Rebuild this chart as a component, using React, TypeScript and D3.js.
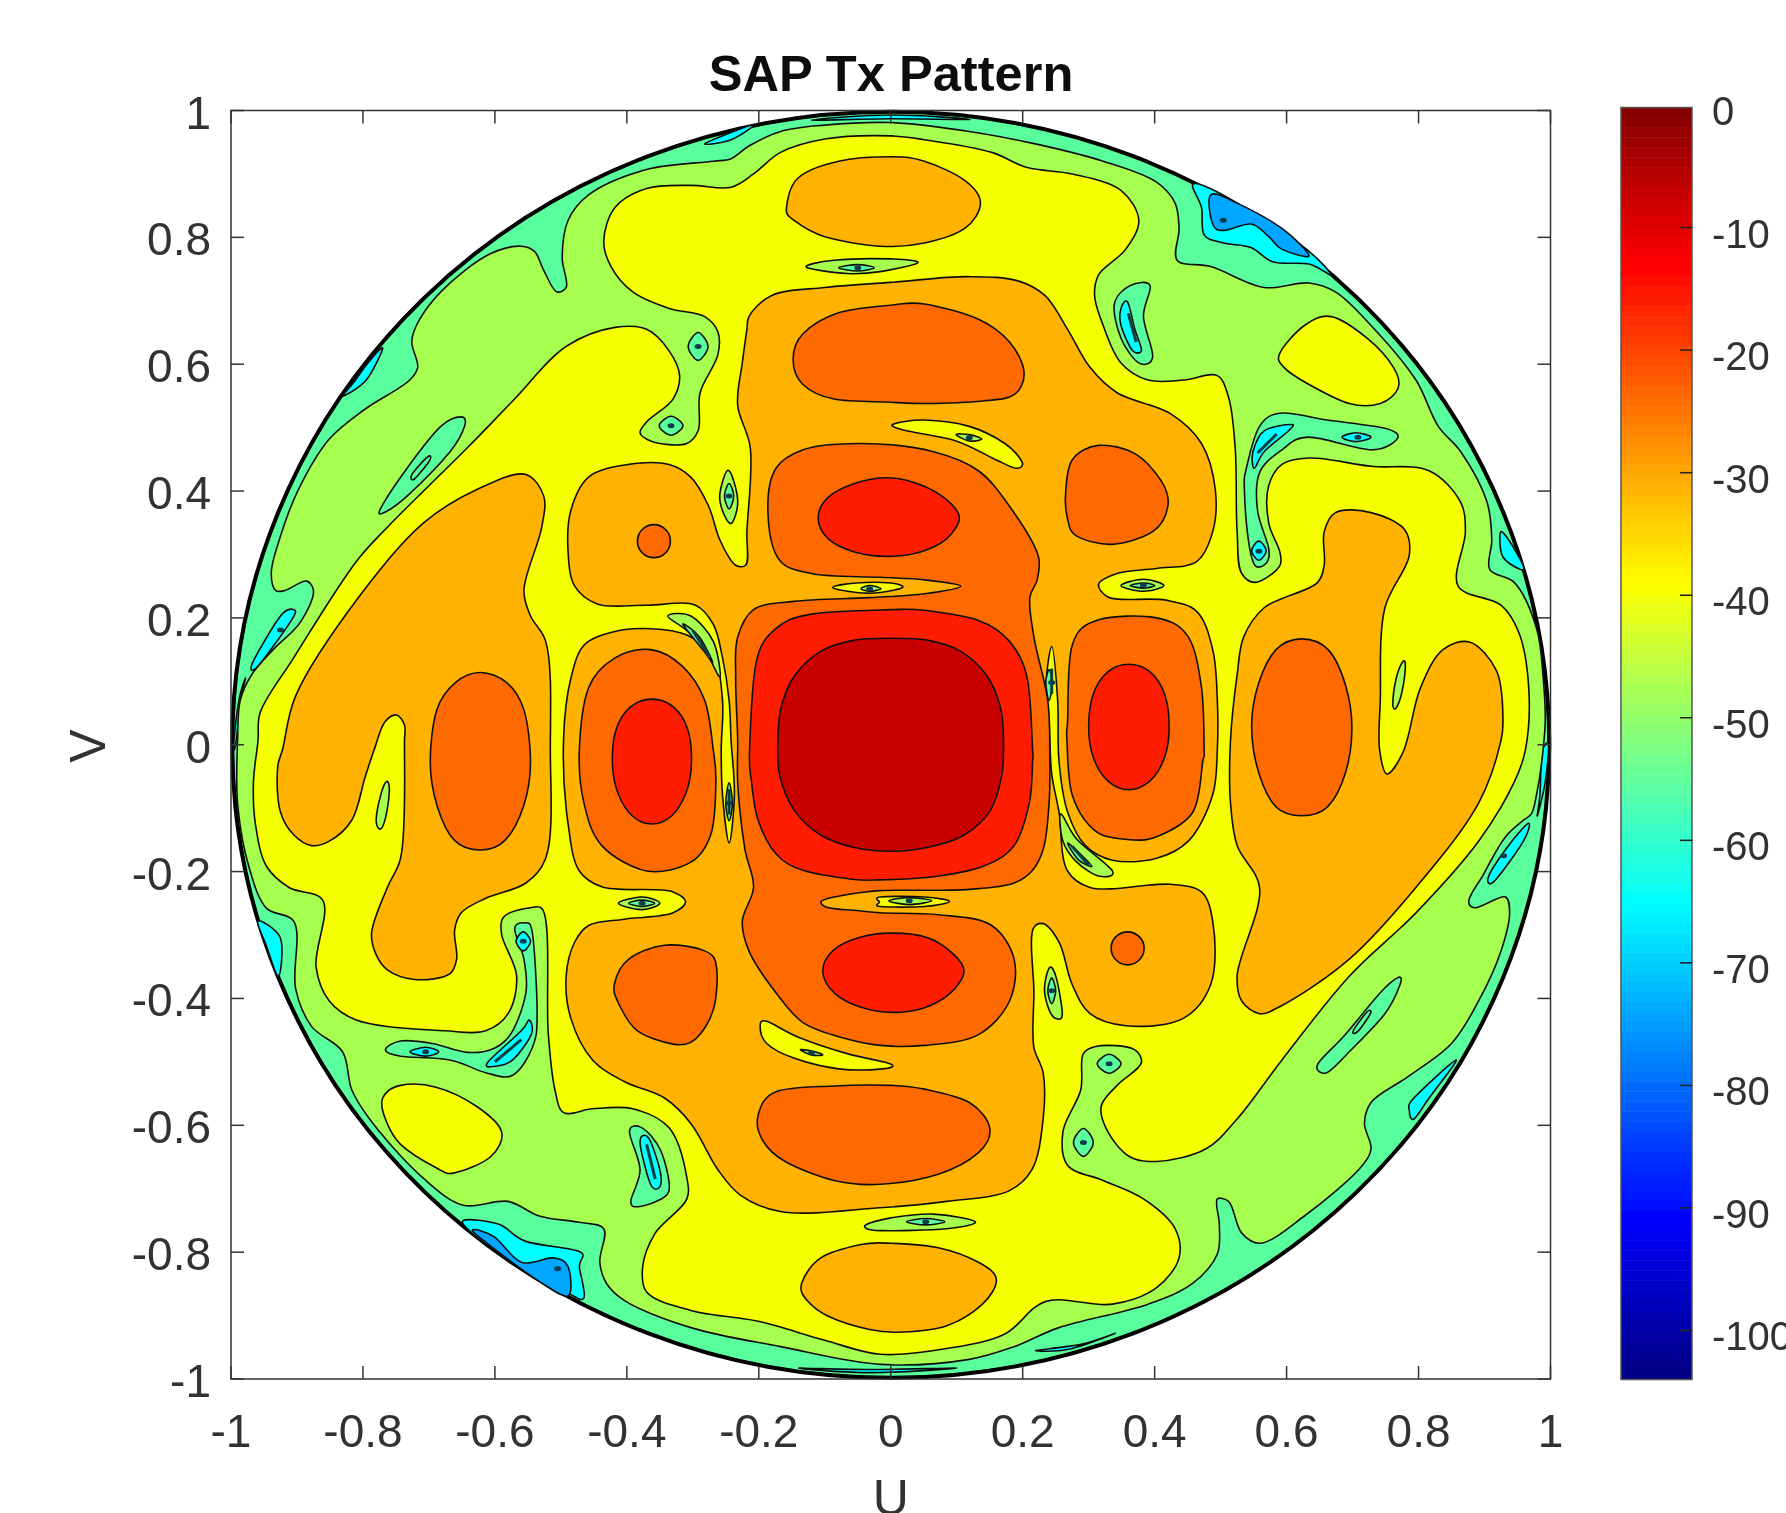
import React from "react";
import * as d3 from "d3";

type Pt = [number, number];

const uvTicks = [-1, -0.8, -0.6, -0.4, -0.2, 0, 0.2, 0.4, 0.6, 0.8, 1];
const barTicks = [0, -10, -20, -30, -40, -50, -60, -70, -80, -90, -100];
const jetDb = [-104, -91, -65, -39, -13, 0];
const jetColors = ["#000080", "#0000ff", "#00ffff", "#ffff00", "#ff0000", "#800000"];

// colours of the filled bands
const bandBlue = "#00a6ff";
const bandCyan = "#00ffff";
const bandAqua = "#5aff9d";
const bandLime = "#a6ff50";
const bandYellow = "#f6ff00";
const bandAmber = "#ffb300";
const bandOrange = "#ff6a00";
const bandRed = "#ff1e00";
const bandDark = "#c80000";

const limeMain: Pt[] = [[-.939,.270],[-.925,.329],[-.898,.402],[-.851,.482],[-.797,.529],[-.729,.575],[-.717,.595],[-.726,.635],[-.719,.661],[-.682,.714],[-.607,.774],[-.560,.786],[-.540,.778],[-.526,.748],[-.506,.714],[-.492,.721],[-.498,.768],[-.489,.827],[-.458,.867],[-.370,.907],[-.269,.920],[-.242,.924],[-.215,.944],[-.167,.967],[-.100,.977],[0,.981],[.119,.967],[.221,.947],[.322,.920],[.403,.887],[.431,.854],[.437,.814],[.434,.764],[.485,.754],[.566,.721],[.634,.728],[.674,.714],[.728,.661],[.796,.575],[.830,.502],[.864,.462],[.904,.382],[.911,.323],[.908,.276],[.945,.256],[.979,.183],[.989,.104],[.992,.037],[.986,-.033],[.980,-.072],[.971,-.109],[.959,-.119],[.932,-.145],[.898,-.205],[.876,-.248],[.884,-.257],[.932,-.240],[.938,-.265],[.925,-.325],[.891,-.404],[.850,-.471],[.783,-.524],[.728,-.564],[.718,-.597],[.728,-.637],[.715,-.663],[.627,-.743],[.559,-.786],[.532,-.770],[.512,-.720],[.495,-.716],[.498,-.756],[.495,-.803],[.458,-.849],[.390,-.882],[.255,-.919],[.187,-.949],[.119,-.969],[-.016,-.977],[-.167,-.949],[-.303,-.919],[-.404,-.876],[-.431,-.849],[-.441,-.816],[-.435,-.763],[-.472,-.753],[-.533,-.743],[-.580,-.720],[-.648,-.726],[-.709,-.683],[-.790,-.590],[-.817,-.544],[-.831,-.484],[-.878,-.444],[-.902,-.385],[-.905,-.278],[-.946,-.258],[-.973,-.192],[-.990,-.092],[-.990,.007],[-.986,.070],[-.969,.110],[-.936,.150],[-.895,.193],[-.875,.243],[-.885,.258],[-.919,.243],[-.932,.243]];

const yellowMain: Pt[] = [[-.435,.794],[-.418,.847],[-.370,.877],[-.303,.882],[-.242,.879],[-.208,.900],[-.167,.934],[-.100,.955],[0,.960],[.051,.954],[.153,.934],[.207,.910],[.275,.900],[.349,.874],[.376,.827],[.356,.781],[.315,.741],[.309,.708],[.322,.661],[.349,.602],[.390,.575],[.444,.575],[.495,.582],[.512,.548],[.522,.469],[.525,.336],[.532,.270],[.552,.256],[.590,.283],[.590,.303],[.573,.349],[.573,.409],[.593,.442],[.634,.452],[.728,.439],[.816,.432],[.864,.382],[.871,.336],[.860,.250],[.925,.220],[.952,.177],[.967,.090],[.962,-.008],[.945,-.059],[.891,-.152],[.796,-.265],[.695,-.365],[.593,-.497],[.525,-.590],[.478,-.637],[.403,-.657],[.363,-.650],[.329,-.610],[.319,-.570],[.343,-.537],[.380,-.501],[.370,-.481],[.309,-.476],[.292,-.487],[.288,-.544],[.261,-.610],[.268,-.663],[.322,-.687],[.383,-.716],[.431,-.763],[.437,-.809],[.403,-.856],[.336,-.882],[.234,-.878],[.173,-.929],[.085,-.952],[-.016,-.961],[-.100,-.939],[-.201,-.909],[-.303,-.892],[-.370,-.863],[-.376,-.823],[-.357,-.770],[-.309,-.716],[-.309,-.683],[-.336,-.604],[-.391,-.574],[-.452,-.574],[-.496,-.580],[-.509,-.544],[-.519,-.457],[-.529,-.258],[-.546,-.257],[-.587,-.272],[-.590,-.298],[-.567,-.365],[-.580,-.424],[-.614,-.451],[-.675,-.451],[-.810,-.434],[-.851,-.404],[-.871,-.351],[-.861,-.245],[-.912,-.225],[-.946,-.192],[-.963,-.125],[-.966,-.059],[-.959,.007],[-.956,.050],[-.905,.137],[-.810,.289],[-.763,.343],[-.641,.469],[-.573,.542],[-.492,.628],[-.418,.658],[-.370,.655],[-.336,.621],[-.320,.582],[-.330,.545],[-.370,.509],[-.380,.492],[-.364,.479],[-.309,.475],[-.292,.495],[-.289,.555],[-.262,.615],[-.262,.651],[-.282,.675],[-.336,.688],[-.391,.714],[-.424,.754]];

const amberCentral: Pt[] = [[-.218,.655],[-.215,.675],[-.181,.708],[-.100,.721],[0,.729],[.119,.738],[.194,.731],[.234,.708],[.268,.655],[.302,.595],[.343,.555],[.424,.522],[.471,.475],[.492,.402],[.488,.336],[.464,.289],[.403,.278],[.343,.270],[.315,.253],[.329,.233],[.417,.228],[.464,.210],[.488,.150],[.495,.070],[.495,-.008],[.488,-.079],[.451,-.152],[.403,-.179],[.336,-.182],[.295,-.159],[.268,-.106],[.255,-.026],[.253,.070],[.244,.155],[.236,.104],[.240,.037],[.244,-.046],[.255,-.106],[.268,-.199],[.302,-.225],[.424,-.220],[.471,-.232],[.488,-.278],[.485,-.378],[.444,-.431],[.356,-.443],[.302,-.424],[.275,-.378],[.255,-.311],[.231,-.282],[.217,-.288],[.217,-.391],[.217,-.477],[.231,-.517],[.231,-.590],[.214,-.670],[.180,-.703],[.085,-.720],[-.016,-.730],[-.167,-.736],[-.228,-.710],[-.262,-.670],[-.303,-.597],[-.343,-.557],[-.404,-.531],[-.452,-.497],[-.485,-.431],[-.492,-.365],[-.479,-.311],[-.458,-.285],[-.404,-.275],[-.330,-.265],[-.311,-.248],[-.330,-.232],[-.438,-.224],[-.472,-.199],[-.489,-.125],[-.496,.007],[-.485,.104],[-.465,.157],[-.424,.177],[-.364,.183],[-.309,.173],[-.269,.140],[-.255,.070],[-.257,-.008],[-.255,-.079],[-.245,-.155],[-.237,-.079],[-.242,.007],[-.245,.070],[-.255,.137],[-.269,.190],[-.296,.220],[-.370,.220],[-.445,.222],[-.479,.250],[-.489,.303],[-.485,.369],[-.458,.422],[-.397,.442],[-.336,.442],[-.303,.422],[-.276,.376],[-.259,.323],[-.235,.283],[-.220,.283],[-.218,.336],[-.213,.469],[-.232,.535],[-.225,.602]];

const amberIslands: Pt[][] = [
  [[-.158,.847],[-.140,.894],[-.079,.920],[0,.927],[.051,.920],[.112,.890],[.136,.854],[.112,.814],[.051,.791],[-.016,.786],[-.100,.801],[-.147,.827]],
  [[-.135,-.849],[-.106,-.809],[-.045,-.788],[0,-.786],[.072,-.793],[.133,-.816],[.160,-.843],[.139,-.882],[.085,-.916],[.018,-.926],[-.032,-.922],[-.093,-.902],[-.127,-.876]],
  [[-.922,-.008],[-.902,.077],[-.804,.236],[-.709,.349],[-.628,.402],[-.553,.426],[-.526,.392],[-.529,.343],[-.556,.243],[-.546,.203],[-.523,.163],[-.516,-.008],[-.523,-.179],[-.553,-.218],[-.614,-.242],[-.651,-.265],[-.661,-.292],[-.658,-.338],[-.668,-.361],[-.722,-.370],[-.763,-.355],[-.780,-.331],[-.787,-.298],[-.763,-.225],[-.743,-.179],[-.737,.007],[-.737,.031],[-.749,.047],[-.766,.037],[-.783,-.008],[-.797,-.052],[-.817,-.119],[-.851,-.152],[-.878,-.159],[-.905,-.142],[-.925,-.106],[-.929,-.033]],
  [[.535,.170],[.566,.216],[.647,.256],[.657,.283],[.657,.336],[.674,.366],[.728,.366],[.779,.339],[.786,.299],[.749,.216],[.742,.070],[.741,-.008],[.752,-.046],[.776,-.013],[.803,.090],[.837,.150],[.877,.162],[.918,.117],[.928,.037],[.925,.007],[.891,-.092],[.796,-.225],[.695,-.338],[.593,-.411],[.559,-.424],[.532,-.404],[.525,-.365],[.559,-.225],[.525,-.159],[.515,-.092],[.515,.007],[.525,.110]],
];

const orangeCentral: Pt[] = [[-.186,.363],[-.174,.436],[-.133,.465],[-.045,.475],[.065,.462],[.133,.432],[.180,.376],[.224,.296],[.222,.260],[.211,.233],[.217,.170],[.238,.070],[.241,-.008],[.240,-.092],[.231,-.165],[.214,-.199],[.187,-.218],[.119,-.228],[-.016,-.230],[-.045,-.233],[-.100,-.244],[-.106,-.248],[-.100,-.255],[-.045,-.262],[-.016,-.265],[.072,-.268],[.153,-.285],[.187,-.338],[.180,-.404],[.133,-.457],[.051,-.474],[-.016,-.474],[-.066,-.464],[-.133,-.438],[-.174,-.391],[-.215,-.325],[-.225,-.278],[-.208,-.225],[-.221,-.165],[-.232,-.059],[-.232,.007],[-.235,.104],[-.232,.170],[-.208,.213],[-.147,.226],[-.032,.232],[.051,.238],[.106,.250],[.051,.260],[-.016,.264],[-.120,.270],[-.167,.289]];

const orangeIslands: Pt[][] = [
  [[.268,.037],[.275,.157],[.315,.197],[.403,.200],[.451,.170],[.471,.090],[.475,-.008],[.473,-.026],[.458,-.106],[.403,-.145],[.356,-.149],[.309,-.135],[.275,-.079],[.267,.007]],
  [[-.472,-.008],[-.458,.090],[-.418,.137],[-.364,.150],[-.316,.124],[-.282,.070],[-.269,-.008],[-.265,-.059],[-.272,-.139],[-.303,-.185],[-.370,-.199],[-.438,-.159],[-.465,-.092]],
  [[-.148,.608],[-.133,.648],[-.079,.681],[0,.693],[.051,.695],[.133,.671],[.180,.635],[.202,.588],[.187,.552],[.139,.542],[.051,.538],[0,.540],[-.086,.545],[-.133,.568]],
  [[.265,.396],[.275,.449],[.315,.472],[.370,.459],[.410,.416],[.420,.376],[.397,.336],[.336,.316],[.282,.329],[.268,.356]],
  [[-.359,.347],[-.341,.339],[-.334,.321],[-.341,.303],[-.359,.295],[-.377,.303],[-.384,.321],[-.377,.339]],
  [[.359,-.295],[.377,-.303],[.384,-.321],[.377,-.339],[.359,-.347],[.341,-.339],[.334,-.321],[.341,-.303]],
  [[-.419,-.378],[-.397,-.338],[-.343,-.316],[-.282,-.325],[-.264,-.351],[-.269,-.418],[-.296,-.464],[-.330,-.472],[-.384,-.451],[-.411,-.411]],
  [[-.201,-.584],[-.174,-.547],[-.086,-.538],[0,-.537],[.051,-.543],[.119,-.564],[.150,-.604],[.133,-.643],[.072,-.677],[-.016,-.693],[-.086,-.687],[-.160,-.657],[-.194,-.624]],
  [[-.622,.114],[-.582,.098],[-.556,.055],[-.546,-.026],[-.556,-.095],[-.584,-.150],[-.622,-.166],[-.662,-.150],[-.688,-.095],[-.698,-.026],[-.688,.055],[-.660,.098]],
  [[.623,.167],[.663,.150],[.689,.095],[.699,.027],[.689,-.045],[.662,-.098],[.623,-.112],[.584,-.098],[.558,-.045],[.547,.027],[.557,.095],[.584,.150]],
];

const redRegions: Pt[][] = [
  [[-.214,-.008],[-.204,.130],[-.174,.183],[-.120,.206],[0,.213],[.051,.212],[.133,.196],[.180,.163],[.207,.104],[.215,-.008],[.215,-.026],[.210,-.092],[.187,-.159],[.139,-.192],[.065,-.208],[-.016,-.213],[-.059,-.212],[-.133,-.198],[-.174,-.172],[-.201,-.119],[-.211,-.059]],
  [[-.005,.421],[.045,.410],[.085,.386],[.104,.358],[.085,.325],[.045,.304],[-.005,.297],[-.055,.304],[-.095,.325],[-.110,.358],[-.095,.390],[-.055,.412]],
  [[.003,-.297],[.055,-.304],[.095,-.330],[.111,-.358],[.090,-.392],[.050,-.415],[.003,-.422],[-.045,-.414],[-.085,-.392],[-.103,-.358],[-.088,-.325],[-.048,-.304]],
  [[-.362,.072],[-.330,.060],[-.308,.025],[-.302,-.027],[-.310,-.075],[-.332,-.112],[-.362,-.125],[-.392,-.112],[-.414,-.075],[-.422,-.027],[-.416,.025],[-.394,.060]],
  [[.361,.127],[.393,.115],[.415,.080],[.422,.028],[.415,-.020],[.393,-.057],[.361,-.071],[.329,-.057],[.307,-.020],[.300,.028],[.307,.080],[.329,.115]],
];

const darkCentre: Pt[] = [[-.171,.007],[-.166,.060],[-.145,.110],[-.105,.148],[-.055,.165],[0,.168],[.055,.165],[.105,.148],[.145,.110],[.166,.060],[.171,.007],[.168,-.050],[.150,-.105],[.110,-.143],[.055,-.162],[0,-.168],[-.055,-.162],[-.105,-.143],[-.145,-.105],[-.168,-.050]];

const yellowIslands: Pt[][] = [
  [[.590,.618],[.627,.661],[.668,.675],[.722,.641],[.762,.595],[.769,.562],[.742,.538],[.695,.538],[.634,.568],[.596,.595]],
  [[-.770,-.557],[-.743,-.537],[-.689,-.540],[-.628,-.570],[-.590,-.610],[-.607,-.650],[-.661,-.675],[-.689,-.667],[-.743,-.630],[-.766,-.590]],
  [[.003,.505],[.051,.512],[.119,.502],[.173,.475],[.199,.446],[.190,.436],[.160,.449],[.099,.479],[.024,.495]],
  [[-.198,-.444],[-.188,-.436],[-.140,-.461],[-.066,-.487],[-.001,-.503],[-.012,-.511],[-.079,-.511],[-.147,-.494],[-.188,-.471]],
  [[-.088,.248],[-.052,.255],[0,.255],[.018,.248],[-.016,.240],[-.052,.240]],
  [[-.017,-.248],[-.016,-.240],[.051,-.240],[.089,-.247],[.051,-.255],[-.016,-.255]],
];

const limeIslands: Pt[][] = [
  [[-.259,.396],[-.248,.432],[-.238,.416],[-.232,.379],[-.242,.349],[-.255,.369]],
  [[-.128,.753],[-.086,.764],[0,.766],[.041,.760],[-.016,.746],[-.066,.743]],
  [[.349,.251],[.383,.261],[.414,.251],[.383,.242]],
  [[.761,.064],[.766,.104],[.776,.131],[.780,.124],[.775,.084],[.766,.058]],
  [[-.780,-.119],[-.773,-.079],[-.764,-.058],[-.760,-.072],[-.766,-.116],[-.774,-.133]],
  [[-.413,-.250],[-.377,-.240],[-.350,-.250],[-.377,-.260]],
  [[-.039,-.758],[0,-.746],[.065,-.740],[.128,-.752],[.085,-.763],[-.016,-.766]],
  [[.233,-.384],[.241,-.351],[.251,-.368],[.260,-.424],[.251,-.432],[.240,-.418]],
  [[.258,-.109],[.282,-.149],[.336,-.199],[.315,-.207],[.282,-.185],[.261,-.152]],
  [[-.338,.203],[-.303,.203],[-.269,.163],[-.259,.107],[-.282,.150],[-.309,.180]],
  [[.099,.489],[.119,.489],[.138,.482],[.119,.479]],
  [[-.137,-.481],[-.120,-.483],[-.103,-.489],[-.120,-.489]],
  [[-.045,.246],[-.032,.251],[-.015,.246],[-.032,.242]],
  [[-.003,-.246],[.028,-.241],[.062,-.246],[.028,-.252]],
];

const aquaIslands: Pt[][] = [
  [[-.773,.373],[-.729,.442],[-.682,.502],[-.651,.517],[-.646,.502],[-.668,.462],[-.729,.396],[-.766,.367]],
  [[-.726,.426],[-.702,.454],[-.699,.448],[-.722,.419]],
  [[-.292,.650],[-.277,.628],[-.292,.606],[-.307,.628]],
  [[-.333,.518],[-.315,.503],[-.333,.488],[-.351,.503]],
  [[.339,.695],[.363,.724],[.393,.724],[.383,.675],[.397,.612],[.376,.602],[.349,.641]],
  [[.539,.436],[.559,.502],[.593,.523],[.661,.512],[.749,.499],[.768,.483],[.728,.465],[.634,.485],[.593,.465],[.559,.429],[.556,.369],[.573,.309],[.569,.286],[.552,.283],[.542,.323],[.536,.402]],
  [[-.570,-.291],[-.556,-.281],[-.543,-.298],[-.536,-.424],[-.543,-.477],[-.573,-.521],[-.614,-.517],[-.668,-.497],[-.743,-.491],[-.766,-.481],[-.743,-.467],[-.695,-.471],[-.641,-.485],[-.600,-.478],[-.573,-.451],[-.553,-.391],[-.556,-.338]],
  [[-.396,-.610],[-.377,-.604],[-.350,-.637],[-.336,-.690],[-.343,-.713],[-.380,-.728],[-.394,-.720],[-.380,-.670]],
  [[.292,-.605],[.307,-.627],[.292,-.649],[.277,-.627]],
  [[.331,-.488],[.349,-.503],[.331,-.518],[.313,-.503]],
  [[.647,-.504],[.688,-.458],[.742,-.391],[.769,-.367],[.772,-.378],[.749,-.424],[.695,-.484],[.661,-.517]],
  [[.701,-.451],[.722,-.421],[.727,-.424],[.708,-.452]],
  [[-.245,.412],[-.238,.392],[-.245,.372],[-.252,.392]],
  [[-.079,.752],[-.050,.757],[-.025,.752],[-.050,.747]],
  [[.363,.251],[.383,.255],[.400,.251],[.383,.247]],
  [[-.397,-.250],[-.377,-.245],[-.358,-.250],[-.377,-.255]],
  [[.024,-.752],[.053,-.747],[.082,-.752],[.053,-.757]],
  [[.244,-.368],[.250,-.388],[.244,-.408],[.238,-.388]],
  [[.268,-.155],[.290,-.175],[.305,-.192],[.285,-.182]],
  [[-.315,.190],[-.290,.170],[-.270,.130],[-.285,.150]],
  [[.240,.118],[.245,.098],[.240,.070],[.235,.098]],
  [[-.245,-.060],[-.240,-.092],[-.245,-.120],[-.250,-.092]],
];

const cyanIslands: Pt[][] = [
  [[.349,.688],[.359,.698],[.370,.655],[.380,.622],[.366,.622],[.349,.661]],
  [[.549,.462],[.566,.495],[.607,.505],[.603,.495],[.566,.462],[.551,.436]],
  [[.684,.485],[.705,.492],[.728,.485],[.705,.478]],
  [[.558,.321],[.569,.306],[.558,.291],[.547,.306]],
  [[-.611,-.501],[-.560,-.451],[-.548,-.434],[-.545,-.457],[-.573,-.497],[-.600,-.507]],
  [[-.729,-.484],[-.705,-.477],[-.685,-.484],[-.705,-.491]],
  [[-.557,-.295],[-.546,-.310],[-.557,-.325],[-.568,-.310]],
  [[-.380,-.627],[-.367,-.620],[-.350,-.670],[-.350,-.697],[-.364,-.693]],
  [[-.967,.130],[-.925,.203],[-.905,.213],[-.908,.197],[-.959,.124]],
  [[.906,-.208],[.932,-.165],[.966,-.124],[.959,-.152],[.915,-.215]],
];

// thin cyan pockets along the rim of the disc
const cyanRim: Pt[][] = [
  [[.458,.884],[.471,.847],[.475,.804],[.505,.791],[.546,.784],[.580,.761],[.634,.758],[.667,.741],[.634,.778],[.566,.827],[.498,.870]],
  [[-.648,-.750],[-.594,-.756],[-.553,-.783],[-.472,-.799],[-.472,-.823],[-.465,-.872],[-.492,-.863],[-.573,-.816],[-.628,-.776]],
  [[-.830,.550],[-.795,.575],[-.770,.625],[-.790,.605],[-.815,.570]],
  [[-.282,.947],[-.242,.954],[-.208,.977],[-.248,.963]],
  [[-.120,.985],[0,.993],[.120,.986],[0,.987]],
  [[.925,.336],[.928,.296],[.959,.276],[.945,.309]],
  [[.786,-.577],[.793,-.557],[.857,-.497],[.816,-.557],[.793,-.590]],
  [[.220,-.955],[.290,-.945],[.340,-.928],[.270,-.953]],
  [[-.140,-.983],[-.030,-.990],[.100,-.983],[-.030,-.985]],
  [[-.993,0],[-.985,.070],[-.978,.105],[-.988,.070],[-.996,0]],
  [[-.959,-.278],[-.925,-.305],[-.928,-.365],[-.946,-.318]],
  [[.987,-.013],[.984,-.079],[.980,-.112],[.992,-.059],[.997,0]],
];

const bluePockets: Pt[][] = [
  [[.485,.867],[.488,.821],[.505,.811],[.546,.821],[.573,.801],[.593,.781],[.634,.771],[.593,.814],[.525,.854]],
  [[-.634,-.766],[-.601,-.776],[-.560,-.816],[-.512,-.809],[-.489,-.823],[-.489,-.869],[-.533,-.846],[-.587,-.806]],
];

// the deep nulls: tiny closed contours that read as dots
const nullCentres: Pt[] = [[-.292,.628],[-.333,.503],[.292,-.627],[.331,-.503],[-.05,.752],[.383,.251],[-.377,-.25],[.053,-.752],[-.245,.392],[.244,-.388],[-.925,.181],[.929,-.175],[.708,.485],[.558,.305],[-.557,-.31],[-.705,-.484],[-.032,.246],[.028,-.246],[.119,.484],[-.12,-.486],[.244,.098],[-.245,-.092],[.504,.827],[-.505,-.826]];
const nullStreaks: Pt[][] = [
  [[.556,.46],[.585,.49]],[[-.6,-.5],[-.56,-.465]],[[.36,.68],[.372,.635]],[[-.37,-.63],[-.357,-.685]],
  [[.275,-.16],[.3,-.19]],[[-.3,.18],[-.275,.14]],[[.244,.12],[.244,.08]],[[-.245,-.07],[-.245,-.11]],
];
const rimDiscs = [{ r: 1, fill: "#000000", w: 1.6 }, { r: 0.996, fill: bandAqua, w: 1.2 }];

const WIDTH = 1786;
const HEIGHT = 1513;
const plot = { left: 231, right: 1550.5, top: 110.5, bottom: 1379 };
const bar = { left: 1621, right: 1692, top: 107.5, bottom: 1379.5 };
const ink = "#333333";
const lineInk = "#101010";
const fontFamily = "'Liberation Sans', Arial, sans-serif";

export default function App() {
  const x = d3.scaleLinear().domain([-1, 1]).range([plot.left, plot.right]);
  const y = d3.scaleLinear().domain([-1, 1]).range([plot.bottom, plot.top]);
  const barY = d3.scaleLinear().domain([-104, -0.2]).range([bar.bottom, bar.top]);
  const jet = d3.scaleLinear<string>().domain(jetDb).range(jetColors).interpolate(d3.interpolateRgb);

  // short closed contours look better with the uniform spline, long ones would overshoot
  const smooth = d3.line<Pt>().x(d => x(d[0])).y(d => y(d[1])).curve(d3.curveCatmullRomClosed.alpha(0));
  const tight = d3.line<Pt>().x(d => x(d[0])).y(d => y(d[1])).curve(d3.curveCatmullRomClosed.alpha(0.5));
  const open = d3.line<Pt>().x(d => x(d[0])).y(d => y(d[1]));
  const contour = (pts: Pt[]) => (pts.length <= 30 ? smooth(pts) : tight(pts)) ?? "";

  const layers: { pts: Pt[]; fill: string; }[] = [
    ...cyanRim.map(pts => ({ pts, fill: bandCyan })),
    ...bluePockets.map(pts => ({ pts, fill: bandBlue })),
    { pts: limeMain, fill: bandLime },
    { pts: yellowMain, fill: bandYellow },
    { pts: amberCentral, fill: bandAmber },
    ...amberIslands.map(pts => ({ pts, fill: bandAmber })),
    { pts: orangeCentral, fill: bandOrange },
    ...orangeIslands.map(pts => ({ pts, fill: bandOrange })),
    ...redRegions.map(pts => ({ pts, fill: bandRed })),
    { pts: darkCentre, fill: bandDark },
    ...yellowIslands.map(pts => ({ pts, fill: bandYellow })),
    ...limeIslands.map(pts => ({ pts, fill: bandLime })),
    ...aquaIslands.map(pts => ({ pts, fill: bandAqua })),
    ...cyanIslands.map(pts => ({ pts, fill: bandCyan })),
  ];

  const barSteps = d3.range(128).map(i => -104 + i * (103.8 / 128));
  const stepDb = 103.8 / 128;

  return (
    <svg width={WIDTH} height={HEIGHT} viewBox={`0 0 ${WIDTH} ${HEIGHT}`}
      style={{ position: "absolute", left: 0, top: 0, background: "#fff" }} fontFamily={fontFamily}>
      <defs>
        <filter id="soft" x="-2%" y="-2%" width="104%" height="104%">
          <feGaussianBlur stdDeviation="0.6" />
        </filter>
      </defs>
      <g filter="url(#soft)">
        {rimDiscs.map(d => (
          <ellipse key={d.r} cx={x(0)} cy={y(0)} rx={x(d.r) - x(0)} ry={y(0) - y(d.r)}
            fill={d.fill} stroke="#000" strokeWidth={d.w} />
        ))}
        {layers.map((l, i) => (
          <path key={i} d={contour(l.pts)} fill={l.fill} stroke={lineInk} strokeWidth={1.6} />
        ))}
        {nullStreaks.map((s, i) => (
          <path key={i} d={open(s) ?? ""} stroke="#0b3d3d" strokeWidth={3} fill="none" />
        ))}
        {nullCentres.map((p, i) => (
          <ellipse key={i} cx={x(p[0])} cy={y(p[1])} rx={3.5} ry={2.5} fill="#0b3d4d" />
        ))}

        <rect x={plot.left} y={plot.top} width={plot.right - plot.left} height={plot.bottom - plot.top}
          fill="none" stroke={ink} strokeWidth={1.5} />
        {uvTicks.map(t => (
          <g key={t} stroke={ink} strokeWidth={1.5}>
            <line x1={x(t)} x2={x(t)} y1={plot.bottom} y2={plot.bottom - 13} />
            <line x1={x(t)} x2={x(t)} y1={plot.top} y2={plot.top + 13} />
            <line x1={plot.left} x2={plot.left + 13} y1={y(t)} y2={y(t)} />
            <line x1={plot.right} x2={plot.right - 13} y1={y(t)} y2={y(t)} />
          </g>
        ))}
        <g fontSize={46} fill={ink}>
          {uvTicks.map(t => (
            <text key={t} x={x(t)} y={1447} textAnchor="middle">{String(t)}</text>
          ))}
          {uvTicks.map(t => (
            <text key={t} x={211} y={y(t) + 18} textAnchor="end">{String(t)}</text>
          ))}
        </g>
        <g fontSize={50} fill={ink}>
          <text x={x(0)} y={1515} textAnchor="middle">U</text>
          <text transform={`translate(105,746) rotate(-90)`} textAnchor="middle">V</text>
        </g>
        <text x={891} y={91} textAnchor="middle" fontSize={50.6} fontWeight="bold" fill="#111">SAP Tx Pattern</text>

        {barSteps.map(s => (
          <rect key={s} x={bar.left} width={bar.right - bar.left} y={barY(s + stepDb)}
            height={barY(s) - barY(s + stepDb) + 0.5} fill={jet(s + stepDb / 2)} />
        ))}
        <rect x={bar.left} y={bar.top} width={bar.right - bar.left} height={bar.bottom - bar.top}
          fill="none" stroke="#555" strokeWidth={1.5} />
        {barTicks.map(t => (
          <g key={t}>
            {t !== 0 && <line x1={bar.right} x2={bar.right - 12} y1={barY(t)} y2={barY(t)} stroke="#222" strokeWidth={1.5} />}
            <text x={1712} y={barY(t) + 20} fontSize={40} fill={ink}>{String(t)}</text>
          </g>
        ))}
      </g>
    </svg>
  );
}
